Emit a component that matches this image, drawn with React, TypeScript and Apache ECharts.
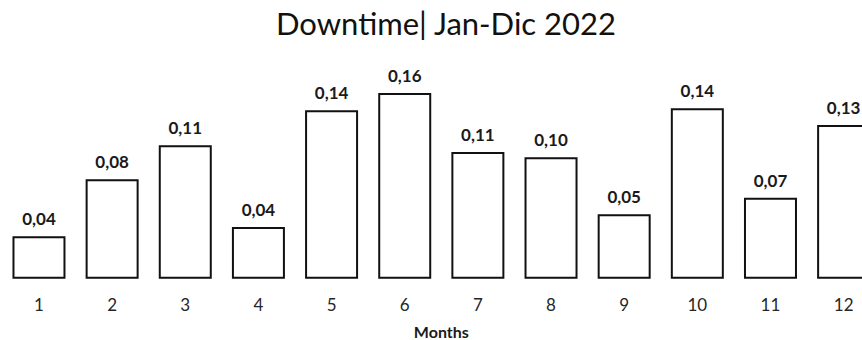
import React, { useEffect, useRef } from "react";
import * as echarts from "echarts";

// Monthly downtime, January–December 2022
const months = ["1", "2", "3", "4", "5", "6", "7", "8", "9", "10", "11", "12"];
const downtime = [0.0358, 0.0839, 0.1126, 0.0436, 0.1421, 0.1567, 0.1069, 0.1024, 0.0543, 0.1438, 0.0684, 0.1297];

const titleText = "Downtime| Jan-Dic 2022";
const axisName = "Months";
const FONT = "Lato, 'Open Sans', sans-serif";

const fmt = (v: number) => v.toFixed(2).replace(".", ",");

export default function App() {
  const ref = useRef<HTMLDivElement>(null);

  useEffect(() => {
    if (!ref.current) return;
    const chart = echarts.init(ref.current, null, { renderer: "svg" });
    chart.setOption({
      animation: false,
      backgroundColor: "#ffffff",
      title: {
        text: titleText,
        left: 441,
        textAlign: "center",
        top: 2,
        textStyle: {
          fontFamily: FONT,
          fontSize: 31,
          fontWeight: "normal",
          color: "#111111",
        },
      },
      grid: {
        left: 2.4,
        width: 877.8,
        top: 65.4,
        bottom: 61.3,
        outerBoundsMode: "none",
        containLabel: false,
      },
      xAxis: {
        type: "category",
        data: months,
        name: axisName,
        nameLocation: "middle",
        nameGap: 45,
        nameTextStyle: {
          fontFamily: FONT,
          fontSize: 16,
          fontWeight: "bold",
          color: "#1a1a1a",
        },
        axisLine: { show: false },
        axisTick: { show: false },
        axisLabel: {
          margin: 17,
          fontFamily: FONT,
          fontSize: 17,
          color: "#262626",
        },
      },
      yAxis: {
        type: "value",
        min: 0,
        max: 0.18,
        show: false,
        splitLine: { show: false },
      },
      series: [
        {
          type: "bar",
          data: downtime,
          barWidth: 53,
          itemStyle: {
            color: "#ffffff",
            borderColor: "#111111",
            borderWidth: 2,
          },
          label: {
            show: true,
            position: "top",
            distance: 9,
            fontFamily: FONT,
            fontSize: 17,
            fontWeight: "bold",
            color: "#1a1a1a",
            formatter: (p: any) => fmt(p.value),
          },
        },
      ],
    });
    return () => chart.dispose();
  }, []);

  return (
    <div
      ref={ref}
      style={{ position: "absolute", left: 0, top: 0, width: 862, height: 340, overflow: "hidden" }}
    />
  );
}
